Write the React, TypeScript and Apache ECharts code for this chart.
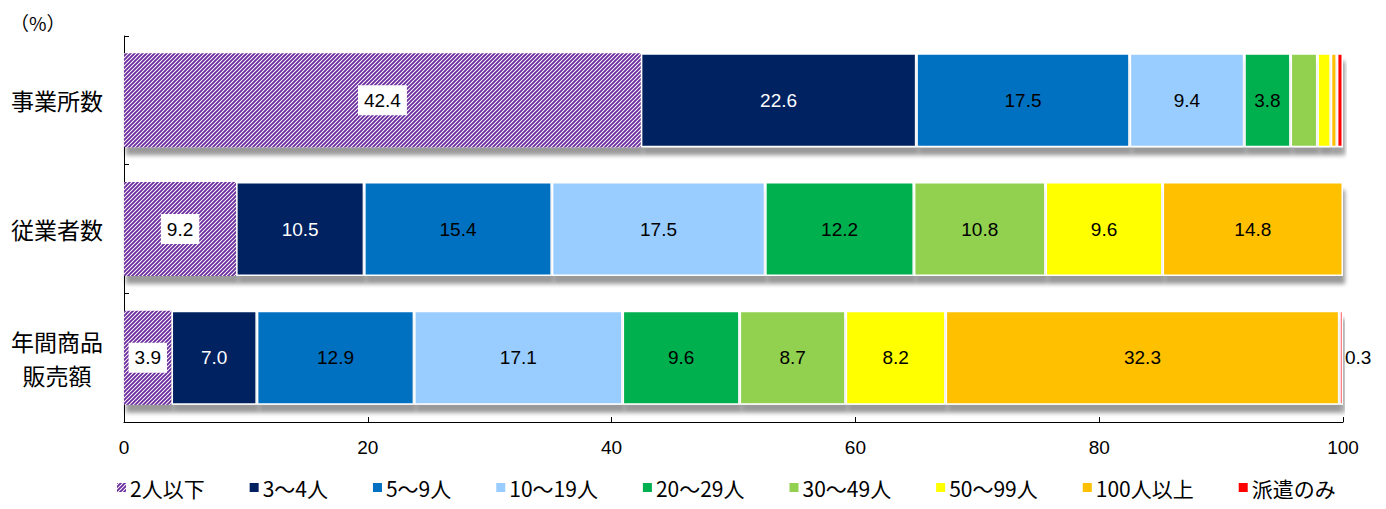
import React, { useEffect, useRef } from "react";
import * as echarts from "echarts";

const categories = ["事業所数", "従業者数", "年間商品\n販売額"];
const seriesNames = ["2人以下", "3～4人", "5～9人", "10～19人", "20～29人", "30～49人", "50～99人", "100人以上", "派遣のみ"];
const colors = ["#7030A0", "#002060", "#0070C0", "#99CCFF", "#00B050", "#92D050", "#FFFF00", "#FFC000", "#FF0000"];
const labelColors = ["#000", "#fff", "#000", "#000", "#000", "#000", "#000", "#000", "#000"];

const v2orLess = [42.4, 9.2, 3.9];
const v3to4 = [22.6, 10.5, 7.0];
const v5to9 = [17.5, 15.4, 12.9];
const v10to19 = [9.4, 17.5, 17.1];
const v20to29 = [3.8, 12.2, 9.6];
const v30to49 = [2.2, 10.8, 8.7];
const v50to99 = [1.1, 9.6, 8.2];
const v100plus = [0.5, 14.8, 32.3];
const vHaken = [0.5, 0, 0.3];
const hakenLabelOutside = [false, false, true];

const seriesValues = [v2orLess, v3to4, v5to9, v10to19, v20to29, v30to49, v50to99, v100plus, vHaken];
const xTicks = [0, 20, 40, 60, 80, 100];

const NARROW = "'Liberation Sans Narrow', 'Arial Narrow', 'Liberation Sans', Arial, sans-serif";
const JP = "'Noto Sans CJK JP', sans-serif";

const hatchSvg =
  "<svg xmlns='http://www.w3.org/2000/svg' width='4' height='4'>" +
  "<rect width='4' height='4' fill='#ffffff'/>" +
  "<path d='M-1,1 L1,-1 M0,4 L4,0 M3,5 L5,3' stroke='#6A2C9E' stroke-width='1.9'/></svg>";
const hatchUrl = "data:image/svg+xml;charset=utf-8," + encodeURIComponent(hatchSvg);

export default function App() {
  const ref = useRef<HTMLDivElement>(null);
  useEffect(() => {
    if (!ref.current) return;
    const chart = echarts.init(ref.current, null, { renderer: "svg" });
    const hatch = { image: hatchUrl, repeat: "repeat", imageWidth: 4, imageHeight: 4 };
    const series = seriesNames.map((name, si) => {
      const isHatch = si === 0;
      const isLast = si === seriesNames.length - 1;
      return {
        name,
        type: "bar",
        stack: "total",
        barWidth: "73%",
        itemStyle: {
          color: isHatch ? hatch : colors[si],
          borderColor: "#fff",
          borderWidth: isHatch ? 0 : 1.5,
          shadowColor: "rgba(0,0,0,0.4)",
          shadowBlur: 4,
          shadowOffsetX: 2,
          shadowOffsetY: 8,
        },
        data: seriesValues[si].map((v, ci) => {
          const outside = isLast && hakenLabelOutside[ci];
          const show = outside || (!isLast && v >= 3);
          return {
            value: v,
            label: {
              show,
              position: outside ? "right" : "inside",
              distance: 2,
              formatter: () => v.toFixed(1),
              color: outside ? "#000" : labelColors[si],
              fontSize: 19,
              fontFamily: NARROW,
              backgroundColor: isHatch ? "#fff" : "transparent",
              padding: isHatch ? [6, 6, 5, 6] : 0,
            },
          };
        }),
      };
    });

    chart.setOption({
      animation: false,
      grid: { left: 113, right: 35, top: 28, bottom: 79 },
      graphic: [
        {
          type: "text",
          left: 2,
          top: 5,
          style: { text: "（%）", fontSize: 19, fontFamily: JP, fill: "#000" },
        },
      ],
      legend: {
        bottom: -2,
        left: 104,
        itemWidth: 9,
        itemHeight: 9,
        itemGap: 45,
        icon: "rect",
        data: seriesNames,
        itemStyle: { shadowBlur: 0, shadowOffsetX: 0, shadowOffsetY: 0, borderWidth: 0 },
        textStyle: { fontSize: 21, fontFamily: JP, color: "#000", padding: [0, 0, 0, -1] },
      },
      xAxis: {
        type: "value",
        min: 0,
        max: 100,
        interval: 20,
        axisLine: { show: true, lineStyle: { color: "#000", width: 1 } },
        axisTick: { show: true, inside: true, length: 5, lineStyle: { color: "#000" } },
        splitLine: { show: false },
        axisLabel: {
          fontSize: 19,
          fontFamily: NARROW,
          color: "#000",
          margin: 16,
          formatter: (val: number) => (xTicks.includes(val) ? String(val) : ""),
        },
      },
      yAxis: {
        type: "category",
        inverse: true,
        data: categories,
        axisLine: { show: true, lineStyle: { color: "#000", width: 1 } },
        axisTick: { show: true, inside: true, length: 5, lineStyle: { color: "#000" } },
        axisLabel: {
          fontSize: 23,
          fontFamily: JP,
          color: "#000",
          align: "center",
          margin: 67,
          lineHeight: 34,
        },
      },
      series,
    });
    return () => chart.dispose();
  }, []);
  return <div ref={ref} style={{ width: 1370, height: 493 }} />;
}
